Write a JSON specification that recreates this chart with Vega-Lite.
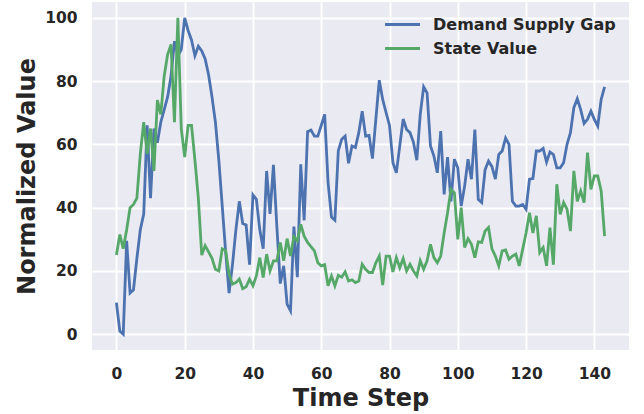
{
  "$schema": "https://vega.github.io/schema/vega-lite/v6.json",
  "width": 537,
  "height": 348,
  "autosize": {"type": "none"},
  "padding": {"left": 92, "top": 2, "right": 15, "bottom": 64},
  "background": "white",
  "config": {
    "view": {"fill": "#EAEAF2", "stroke": null},
    "font": "DejaVu Sans",
    "axis": {
      "domain": false,
      "ticks": false,
      "tickSize": 0,
      "grid": true,
      "gridColor": "#FFFFFF",
      "gridWidth": 1.8,
      "labelFont": "DejaVu Sans",
      "labelFontWeight": "bold",
      "labelFontSize": 15.5,
      "labelColor": "#262626",
      "titleFont": "DejaVu Sans",
      "titleFontWeight": "bold",
      "titleFontSize": 24,
      "titleColor": "#262626"
    }
  },
  "data": {
    "values": [
      {"t": 0, "gap": 10, "state": 25},
      {"t": 1, "gap": 1, "state": 31.5},
      {"t": 2, "gap": 0, "state": 27},
      {"t": 3, "gap": 29.5, "state": 33},
      {"t": 4, "gap": 13, "state": 40},
      {"t": 5, "gap": 14, "state": 41},
      {"t": 6, "gap": 24, "state": 43},
      {"t": 7, "gap": 33, "state": 57},
      {"t": 8, "gap": 38, "state": 67},
      {"t": 9, "gap": 66, "state": 57},
      {"t": 10, "gap": 43, "state": 65},
      {"t": 11, "gap": 65, "state": 51.6},
      {"t": 12, "gap": 60.5, "state": 74},
      {"t": 13, "gap": 67, "state": 69.5},
      {"t": 14, "gap": 71, "state": 81.6},
      {"t": 15, "gap": 75, "state": 88.4},
      {"t": 16, "gap": 81.6, "state": 91.6},
      {"t": 17, "gap": 92.6, "state": 67},
      {"t": 18, "gap": 88, "state": 100},
      {"t": 19, "gap": 90, "state": 65},
      {"t": 20, "gap": 100, "state": 56},
      {"t": 21, "gap": 96, "state": 66},
      {"t": 22, "gap": 93, "state": 66},
      {"t": 23, "gap": 88, "state": 55},
      {"t": 24, "gap": 91, "state": 43},
      {"t": 25, "gap": 89.5, "state": 25},
      {"t": 26, "gap": 87, "state": 28},
      {"t": 27, "gap": 82, "state": 26},
      {"t": 28, "gap": 75, "state": 24},
      {"t": 29, "gap": 67, "state": 20.5},
      {"t": 30, "gap": 55, "state": 20},
      {"t": 31, "gap": 40.5, "state": 27},
      {"t": 32, "gap": 26, "state": 26.5},
      {"t": 33, "gap": 13, "state": 19},
      {"t": 34, "gap": 22, "state": 15.8},
      {"t": 35, "gap": 33, "state": 16.3},
      {"t": 36, "gap": 42, "state": 17.4},
      {"t": 37, "gap": 35, "state": 14.4},
      {"t": 38, "gap": 34.5, "state": 15},
      {"t": 39, "gap": 22, "state": 17.4},
      {"t": 40, "gap": 44, "state": 15.3},
      {"t": 41, "gap": 42.6, "state": 18.4},
      {"t": 42, "gap": 33, "state": 24.2},
      {"t": 43, "gap": 27, "state": 17.9},
      {"t": 44, "gap": 51.6, "state": 25.3},
      {"t": 45, "gap": 38, "state": 20},
      {"t": 46, "gap": 53.5, "state": 23.2},
      {"t": 47, "gap": 34, "state": 23.2},
      {"t": 48, "gap": 16, "state": 29},
      {"t": 49, "gap": 21.6, "state": 23.2},
      {"t": 50, "gap": 9.5, "state": 30.2},
      {"t": 51, "gap": 7.4, "state": 24.7},
      {"t": 52, "gap": 34, "state": 30.8},
      {"t": 53, "gap": 18, "state": 29.5},
      {"t": 54, "gap": 53.7, "state": 34.7},
      {"t": 55, "gap": 36, "state": 31},
      {"t": 56, "gap": 64, "state": 29},
      {"t": 57, "gap": 64.5, "state": 27.7},
      {"t": 58, "gap": 62.6, "state": 26.3},
      {"t": 59, "gap": 62.6, "state": 22.6},
      {"t": 60, "gap": 66, "state": 21.6},
      {"t": 61, "gap": 69.5, "state": 22},
      {"t": 62, "gap": 48, "state": 15.3},
      {"t": 63, "gap": 37, "state": 18.4},
      {"t": 64, "gap": 36, "state": 15.3},
      {"t": 65, "gap": 58, "state": 18.6},
      {"t": 66, "gap": 61.6, "state": 18},
      {"t": 67, "gap": 62.6, "state": 19.7},
      {"t": 68, "gap": 54, "state": 16.8},
      {"t": 69, "gap": 59.5, "state": 17.2},
      {"t": 70, "gap": 59, "state": 16.3},
      {"t": 71, "gap": 63.7, "state": 16.8},
      {"t": 72, "gap": 70.5, "state": 22.1},
      {"t": 73, "gap": 62.6, "state": 20.5},
      {"t": 74, "gap": 62.8, "state": 19.5},
      {"t": 75, "gap": 55.5, "state": 19.5},
      {"t": 76, "gap": 68, "state": 22.6},
      {"t": 77, "gap": 80.3, "state": 24.7},
      {"t": 78, "gap": 74.2, "state": 15.5},
      {"t": 79, "gap": 70, "state": 24.7},
      {"t": 80, "gap": 66, "state": 24.7},
      {"t": 81, "gap": 54.2, "state": 19.7},
      {"t": 82, "gap": 51, "state": 24.2},
      {"t": 83, "gap": 59.5, "state": 21},
      {"t": 84, "gap": 68, "state": 23.9},
      {"t": 85, "gap": 64.7, "state": 20},
      {"t": 86, "gap": 63.7, "state": 22.1},
      {"t": 87, "gap": 60.7, "state": 20},
      {"t": 88, "gap": 55, "state": 18.4},
      {"t": 89, "gap": 69.5, "state": 23.2},
      {"t": 90, "gap": 78.2, "state": 20.5},
      {"t": 91, "gap": 76.3, "state": 23.2},
      {"t": 92, "gap": 59.5, "state": 28.4},
      {"t": 93, "gap": 56.3, "state": 24.2},
      {"t": 94, "gap": 51, "state": 22.6},
      {"t": 95, "gap": 64.2, "state": 24.7},
      {"t": 96, "gap": 44.2, "state": 32},
      {"t": 97, "gap": 56, "state": 38.4},
      {"t": 98, "gap": 42, "state": 45.8},
      {"t": 99, "gap": 55.3, "state": 44.7},
      {"t": 100, "gap": 52.6, "state": 30},
      {"t": 101, "gap": 40.5, "state": 40},
      {"t": 102, "gap": 46.8, "state": 27.4},
      {"t": 103, "gap": 55.3, "state": 30.2},
      {"t": 104, "gap": 49, "state": 28.4},
      {"t": 105, "gap": 64.7, "state": 24.2},
      {"t": 106, "gap": 42.6, "state": 29.2},
      {"t": 107, "gap": 41.6, "state": 29},
      {"t": 108, "gap": 52, "state": 32.6},
      {"t": 109, "gap": 54.7, "state": 33.7},
      {"t": 110, "gap": 53, "state": 27},
      {"t": 111, "gap": 49, "state": 24.7},
      {"t": 112, "gap": 56.8, "state": 21.6},
      {"t": 113, "gap": 57.9, "state": 26.3},
      {"t": 114, "gap": 62, "state": 26.6},
      {"t": 115, "gap": 60, "state": 23.7},
      {"t": 116, "gap": 42, "state": 24.7},
      {"t": 117, "gap": 40.5, "state": 25.3},
      {"t": 118, "gap": 40.5, "state": 21.6},
      {"t": 119, "gap": 41, "state": 26.8},
      {"t": 120, "gap": 39.5, "state": 32},
      {"t": 121, "gap": 49, "state": 38.4},
      {"t": 122, "gap": 49.2, "state": 32},
      {"t": 123, "gap": 57.9, "state": 37.4},
      {"t": 124, "gap": 57.9, "state": 25.8},
      {"t": 125, "gap": 58.7, "state": 27.4},
      {"t": 126, "gap": 54.4, "state": 21.6},
      {"t": 127, "gap": 57.6, "state": 33.7},
      {"t": 128, "gap": 56.8, "state": 22},
      {"t": 129, "gap": 52.6, "state": 47.4},
      {"t": 130, "gap": 52.6, "state": 37.9},
      {"t": 131, "gap": 54.2, "state": 41.6},
      {"t": 132, "gap": 60, "state": 39.5},
      {"t": 133, "gap": 63.7, "state": 32.6},
      {"t": 134, "gap": 71.6, "state": 51.6},
      {"t": 135, "gap": 74.4, "state": 42},
      {"t": 136, "gap": 71, "state": 45.3},
      {"t": 137, "gap": 66.6, "state": 41.6},
      {"t": 138, "gap": 67.9, "state": 57.4},
      {"t": 139, "gap": 70.5, "state": 45.8},
      {"t": 140, "gap": 67.9, "state": 50},
      {"t": 141, "gap": 65.8, "state": 50},
      {"t": 142, "gap": 74.2, "state": 45.3},
      {"t": 143, "gap": 78.2, "state": 31}
    ]
  },
  "encoding": {
    "x": {
      "field": "t",
      "type": "quantitative",
      "scale": {"domain": [-7.15, 150.15], "nice": false, "zero": false},
      "axis": {
        "title": "Time Step",
        "values": [0, 20, 40, 60, 80, 100, 120, 140],
        "labelPadding": 16,
        "titlePadding": 5
      }
    }
  },
  "layer": [
    {
      "mark": {"type": "line", "strokeWidth": 2.8},
      "encoding": {
        "y": {
          "field": "gap",
          "type": "quantitative",
          "scale": {"domain": [-5, 105], "nice": false, "zero": false},
          "axis": {
            "title": "Normalized Value",
            "values": [0, 20, 40, 60, 80, 100],
            "labelPadding": 15,
            "titlePadding": 5
          }
        },
        "color": {
          "datum": "Demand Supply Gap",
          "type": "nominal",
          "scale": {
            "domain": ["Demand Supply Gap", "State Value"],
            "range": ["#4C72B0", "#55A868"]
          },
          "legend": {
            "title": null,
            "orient": "none",
            "legendX": 302,
            "legendY": 14,
            "padding": 0,
            "symbolType": "M-2.5,0H2.5",
            "symbolSize": 196,
            "symbolStrokeWidth": 3,
            "labelFont": "DejaVu Sans",
            "labelFontWeight": "bold",
            "labelFontSize": 16,
            "labelColor": "#262626",
            "labelOffset": 22,
            "labelLimit": 400,
            "rowPadding": 7
          }
        }
      }
    },
    {
      "mark": {"type": "line", "strokeWidth": 2.8},
      "encoding": {
        "y": {
          "field": "state",
          "type": "quantitative",
          "axis": {
            "title": "Normalized Value",
            "values": [0, 20, 40, 60, 80, 100],
            "labelPadding": 15,
            "titlePadding": 5
          }
        },
        "color": {"datum": "State Value", "type": "nominal"}
      }
    }
  ]
}
